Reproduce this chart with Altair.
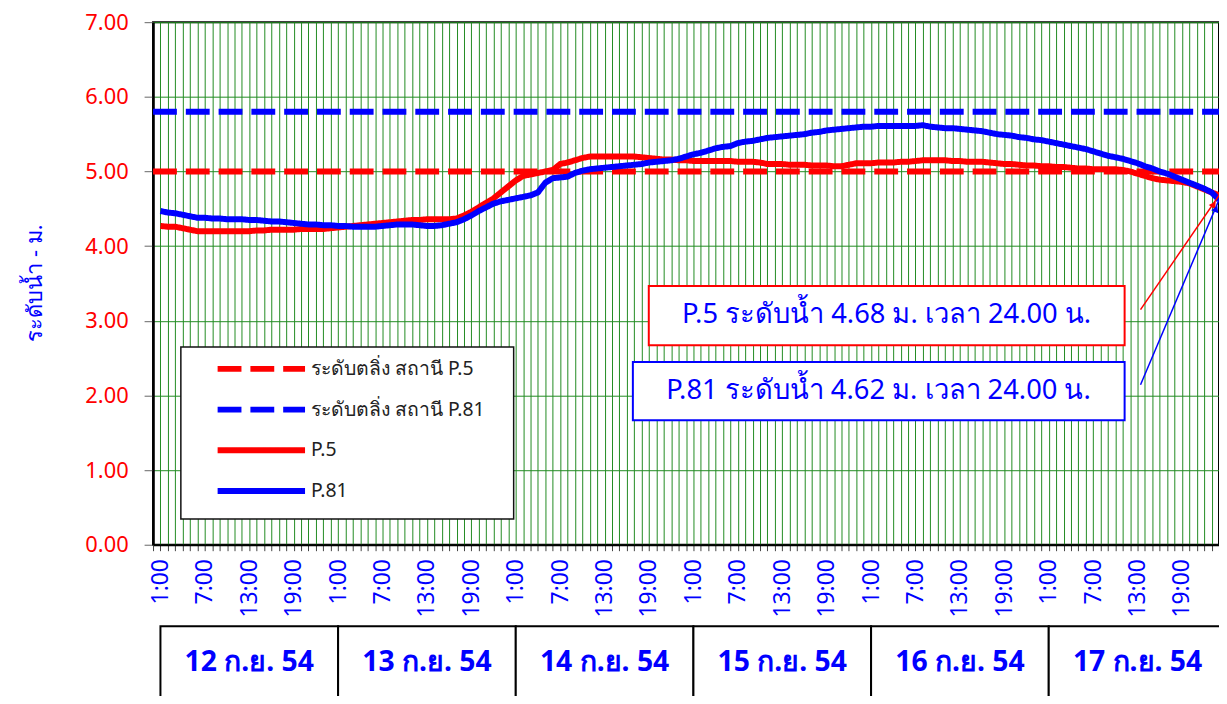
import altair as alt
import pandas as pd

FONT = "Noto Sans"

days = ["12 ก.ย. 54", "13 ก.ย. 54", "14 ก.ย. 54", "15 ก.ย. 54", "16 ก.ย. 54", "17 ก.ย. 54"]
tick_labels = ["1:00", "7:00", "13:00", "19:00"]
hours = list(range(1, 145))

p5 = [
    4.27, 4.26, 4.26, 4.24, 4.22, 4.20, 4.20, 4.20, 4.20, 4.20, 4.20, 4.20,
    4.20, 4.21, 4.21, 4.22, 4.22, 4.22, 4.22, 4.23, 4.23, 4.23, 4.23, 4.24,
    4.25, 4.26, 4.27, 4.28, 4.29, 4.30, 4.31, 4.32, 4.33, 4.34, 4.35, 4.35,
    4.36, 4.36, 4.36, 4.36, 4.37, 4.41, 4.46, 4.52, 4.58, 4.64, 4.72, 4.80,
    4.88, 4.94, 4.96, 4.98, 5.00, 5.02, 5.10, 5.12, 5.15, 5.18, 5.20, 5.20,
    5.20, 5.20, 5.20, 5.20, 5.20, 5.19, 5.18, 5.17, 5.16, 5.16, 5.15, 5.15,
    5.14, 5.14, 5.14, 5.14, 5.14, 5.14, 5.13, 5.13, 5.13, 5.12, 5.10, 5.10,
    5.10, 5.09, 5.09, 5.09, 5.08, 5.08, 5.08, 5.07, 5.07, 5.09, 5.11, 5.11,
    5.11, 5.12, 5.12, 5.12, 5.13, 5.13, 5.14, 5.15, 5.15, 5.15, 5.15, 5.14,
    5.14, 5.13, 5.13, 5.13, 5.12, 5.11, 5.10, 5.10, 5.09, 5.08, 5.08, 5.07,
    5.07, 5.06, 5.06, 5.05, 5.04, 5.04, 5.03, 5.03, 5.03, 5.03, 5.02, 5.00,
    4.97, 4.94, 4.91, 4.89, 4.88, 4.87, 4.86, 4.84, 4.80, 4.76, 4.72, 4.68,
]

p81 = [
    4.47, 4.45, 4.44, 4.42, 4.40, 4.38, 4.38, 4.37, 4.37, 4.36, 4.36, 4.36,
    4.35, 4.35, 4.34, 4.33, 4.33, 4.32, 4.31, 4.30, 4.29, 4.29, 4.28, 4.28,
    4.27, 4.27, 4.26, 4.26, 4.26, 4.26, 4.27, 4.28, 4.29, 4.29, 4.29, 4.28,
    4.27, 4.27, 4.28, 4.30, 4.32, 4.36, 4.41, 4.47, 4.52, 4.57, 4.60, 4.62,
    4.64, 4.66, 4.68, 4.72, 4.85, 4.91, 4.92, 4.93, 4.98, 5.01, 5.03, 5.04,
    5.05, 5.06, 5.07, 5.08, 5.09, 5.10, 5.12, 5.13, 5.14, 5.15, 5.17, 5.20,
    5.23, 5.25, 5.28, 5.31, 5.33, 5.34, 5.38, 5.40, 5.41, 5.43, 5.45, 5.46,
    5.47, 5.48, 5.49, 5.50, 5.52, 5.53, 5.55, 5.56, 5.57, 5.58, 5.59, 5.60,
    5.60, 5.61, 5.61, 5.61, 5.61, 5.61, 5.61, 5.62, 5.60, 5.59, 5.58, 5.58,
    5.57, 5.56, 5.55, 5.54, 5.52, 5.50, 5.49, 5.48, 5.46, 5.45, 5.43, 5.42,
    5.40, 5.38, 5.36, 5.34, 5.32, 5.30, 5.27, 5.24, 5.21, 5.19, 5.17, 5.14,
    5.11, 5.07, 5.04, 5.00, 4.97, 4.93, 4.89, 4.85, 4.81, 4.77, 4.72, 4.62,
]

bank_p5 = 5.00
bank_p81 = 5.80

series_names = ["ระดับตลิ่ง สถานี P.5", "ระดับตลิ่ง สถานี P.81", "P.5", "P.81"]
series_colors = ["#ff0000", "#0000ff", "#ff0000", "#0000ff"]

# ---- build long table ----
rows = []
for h in (0, 144):
    rows.append({"series": series_names[0], "hour": h, "level": bank_p5})
for h in (0, 144):
    rows.append({"series": series_names[1], "hour": h, "level": bank_p81})
for h, v in zip(hours, p5):
    rows.append({"series": series_names[2], "hour": h, "level": v})
for h, v in zip(hours, p81):
    rows.append({"series": series_names[3], "hour": h, "level": v})
df = pd.DataFrame(rows)

BLUE = "#0000ff"
RED = "#ff0000"
GRID = "#228b22"

leg = alt.Legend(
    orient="none", legendX=62, legendY=339, title=None,
    symbolType="stroke", symbolSize=7744, clipHeight=20, rowPadding=21,
    labelFontSize=19.5, labelFont=FONT, labelColor="#222222", labelOffset=3,
    padding=0, labelLimit=400,
)

label_js = "[" + ",".join("'%s'" % t for t in tick_labels) + "]"
x_label_expr = (
    "datum.value % 6 == 1 ? " + label_js + "[floor(((datum.value - 1) % 24) / 6)] : ''"
)

x_scale = alt.Scale(domain=[0, 144], nice=False, zero=False)
y_scale = alt.Scale(domain=[0, 7], nice=False, zero=True)

x_axis = alt.Axis(
    values=list(range(0, 145)), labelExpr=x_label_expr, labelAngle=270,
    labelFont=FONT, labelFontSize=23, labelColor=BLUE, labelPadding=8,
    labelOverlap=False, labelFlush=False, tickSize=6, tickColor="#444444",
    domainColor="black", domainWidth=2, grid=True, gridColor=GRID,
    gridWidth=1, title=None,
)
y_axis = alt.Axis(
    values=list(range(0, 8)), format=".2f", labelFont=FONT, labelFontSize=22,
    labelColor=RED, labelPadding=16, tickSize=9, tickColor="#666666",
    domainColor="black", domainWidth=2.5, grid=True, gridColor=GRID,
    gridWidth=1, title="ระดับน้ำ - ม.", titleFont=FONT, titleFontSize=22,
    titleFontWeight="normal", titleColor=BLUE, titleAngle=270,
    titleX=-112, titleY=262, titleAlign="center", titleBaseline="alphabetic",
)

lines = alt.Chart(df).mark_line(strokeCap="butt", strokeJoin="round").encode(
    x=alt.X("hour:Q", scale=x_scale, axis=x_axis),
    y=alt.Y("level:Q", scale=y_scale, axis=y_axis),
    color=alt.Color("series:N", scale=alt.Scale(domain=series_names, range=series_colors), legend=leg),
    strokeDash=alt.StrokeDash(
        "series:N",
        scale=alt.Scale(domain=series_names, range=[[24, 9], [24, 9], [1, 0], [1, 0]]),
        legend=leg,
    ),
    strokeWidth=alt.StrokeWidth(
        "series:N", scale=alt.Scale(domain=series_names, range=[6, 6, 8, 8]), legend=leg
    ),
)

one = pd.DataFrame({"k": [0]})


def xd(v):
    return alt.XDatum(v, type="quantitative", axis=x_axis, scale=x_scale)


def yd(v):
    return alt.YDatum(v, type="quantitative", axis=y_axis, scale=y_scale)


legend_box = alt.Chart(one).mark_rect(fill="white", stroke="#111111", strokeWidth=1.5).encode(
    x=alt.value(28), x2=alt.value(363), y=alt.value(327), y2=alt.value(500)
)

ann_red_box = alt.Chart(one).mark_rect(fill="white", stroke=RED, strokeWidth=2).encode(
    x=xd(66.97), x2=alt.X2Datum(131.25), y=yd(3.467), y2=alt.Y2Datum(2.673)
)
ann_blue_box = alt.Chart(one).mark_rect(fill="white", stroke=BLUE, strokeWidth=2).encode(
    x=xd(64.82), x2=alt.X2Datum(131.25), y=yd(2.448), y2=alt.Y2Datum(1.667)
)
txt_red = alt.Chart(one).mark_text(
    text=f"P.5 ระดับน้ำ {p5[-1]:.2f} ม. เวลา 24.00 น.", color=BLUE, font=FONT,
    fontSize=27.5, align="center", baseline="middle",
).encode(x=xd(99.1), y=yd(3.07))
txt_blue = alt.Chart(one).mark_text(
    text=f"P.81 ระดับน้ำ {p81[-1]:.2f} ม. เวลา 24.00 น.", color=BLUE, font=FONT,
    fontSize=27.5, align="center", baseline="middle",
).encode(x=xd(98.0), y=yd(2.058))

arrow_red = alt.Chart(one).mark_rule(color=RED, strokeWidth=1.5).encode(
    x=xd(133.4), y=yd(3.149), x2=alt.X2Datum(144), y2=alt.Y2Datum(p5[-1])
)
arrow_blue = alt.Chart(one).mark_rule(color=BLUE, strokeWidth=1.5).encode(
    x=xd(133.4), y=yd(2.144), x2=alt.X2Datum(144), y2=alt.Y2Datum(p81[-1])
)
head_red = alt.Chart(one).mark_point(shape="triangle-up", filled=True, color=RED, size=60, angle=34, opacity=1).encode(
    x=xd(143.3), y=yd(p5[-1] - 0.12)
)
head_blue = alt.Chart(one).mark_point(shape="triangle-up", filled=True, color=BLUE, size=60, angle=23, opacity=1).encode(
    x=xd(143.6), y=yd(p81[-1] - 0.12)
)

day_df = pd.DataFrame({
    "day": days,
    "start": [1 + 24 * i for i in range(len(days))],
    "end": [25 + 24 * i for i in range(len(days))],
    "mid": [13 + 24 * i for i in range(len(days))],
})
day_boxes = alt.Chart(day_df).mark_rect(fill="white", stroke="black", strokeWidth=2).encode(
    x=alt.X("start:Q", axis=x_axis, scale=x_scale), x2="end:Q", y=alt.value(608), y2=alt.value(720)
)
day_text = alt.Chart(day_df).mark_text(
    color=BLUE, font=FONT, fontSize=28.5, fontWeight="bold", align="center", baseline="middle"
).encode(x=alt.X("mid:Q", axis=x_axis, scale=x_scale), y=alt.value(644), text="day:N")

chart = alt.layer(
    lines, legend_box, ann_red_box, ann_blue_box, txt_red, txt_blue,
    arrow_red, arrow_blue, head_red, head_blue, day_boxes, day_text,
).properties(
    width=1073, height=526,
    padding={"left": 146, "top": 12, "right": 0, "bottom": 150},
    autosize=alt.AutoSizeParams(type="none"),
).configure(
    background="white",
    view=alt.ViewConfig(stroke="black", strokeWidth=2),
)

chart.save("out.html", embed_options={"renderer": "svg", "actions": False})
